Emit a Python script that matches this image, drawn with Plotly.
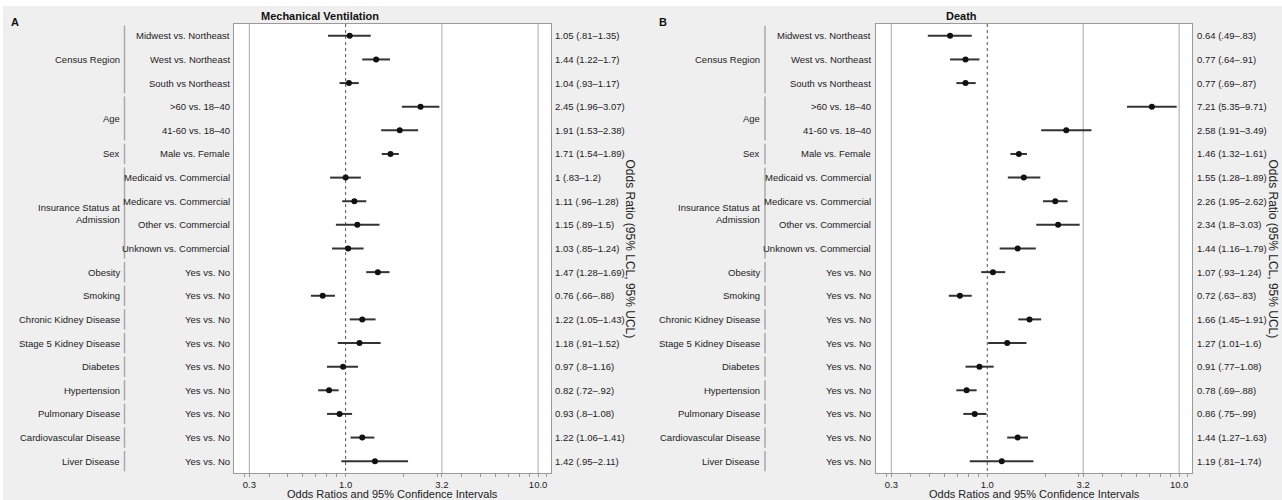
import plotly.graph_objects as go

W, H = 1282, 500

# ---------------- data ----------------
comparisons = [
    "Midwest vs. Northeast", "West vs. Northeast", "South vs Northeast",
    ">60 vs. 18\u201340", "41-60 vs. 18\u201340", "Male vs. Female",
    "Medicaid vs. Commercial", "Medicare vs. Commercial", "Other vs. Commercial",
    "Unknown vs. Commercial",
    "Yes vs. No", "Yes vs. No", "Yes vs. No", "Yes vs. No", "Yes vs. No",
    "Yes vs. No", "Yes vs. No", "Yes vs. No", "Yes vs. No",
]
groups = ["Census Region", "Age", "Sex", "Insurance Status at<br>Admission",
          "Obesity", "Smoking", "Chronic Kidney Disease", "Stage 5 Kidney Disease",
          "Diabetes", "Hypertension", "Pulmonary Disease", "Cardiovascular Disease",
          "Liver Disease"]
group_sizes = [3, 2, 1, 4, 1, 1, 1, 1, 1, 1, 1, 1, 1]

# Mechanical ventilation
mv_or = [1.05, 1.44, 1.04, 2.45, 1.91, 1.71, 1, 1.11, 1.15, 1.03, 1.47, 0.76, 1.22, 1.18, 0.97, 0.82, 0.93, 1.22, 1.42]
mv_lcl = [0.81, 1.22, 0.93, 1.96, 1.53, 1.54, 0.83, 0.96, 0.89, 0.85, 1.28, 0.66, 1.05, 0.91, 0.8, 0.72, 0.8, 1.06, 0.95]
mv_ucl = [1.35, 1.7, 1.17, 3.07, 2.38, 1.89, 1.2, 1.28, 1.5, 1.24, 1.69, 0.88, 1.43, 1.52, 1.16, 0.92, 1.08, 1.41, 2.11]

# Death
de_or = [0.64, 0.77, 0.77, 7.21, 2.58, 1.46, 1.55, 2.26, 2.34, 1.44, 1.07, 0.72, 1.66, 1.27, 0.91, 0.78, 0.86, 1.44, 1.19]
de_lcl = [0.49, 0.64, 0.69, 5.35, 1.91, 1.32, 1.28, 1.95, 1.8, 1.16, 0.93, 0.63, 1.45, 1.01, 0.77, 0.69, 0.75, 1.27, 0.81]
de_ucl = [0.83, 0.91, 0.87, 9.71, 3.49, 1.61, 1.89, 2.62, 3.03, 1.79, 1.24, 0.83, 1.91, 1.6, 1.08, 0.88, 0.99, 1.63, 1.74]

tick_vals = [10 ** -0.5, 1.0, 10 ** 0.5, 10.0]
tick_text = ["0.3", "1.0", "3.2", "10.0"]
minor_vals = [0.3, 0.4, 0.5, 0.6, 0.7, 0.8, 0.9, 2, 3, 4, 5, 6, 7, 8, 9, 11]

panel_titles = ["Mechanical Ventilation", "Death"]
panel_letters = ["A", "B"]
x_title = "Odds Ratios and 95% Confidence Intervals"
right_title = "Odds Ratio (95% LCL, 95% UCL)"

# ---------------- layout geometry (pixels) ----------------
FONT = "Liberation Sans, Arial, sans-serif"
BG = "#efefef"
panels = [
    dict(x0=234, x1=551, grp_x=122, br_x=124.5, sub_x=232, val_x=553, rt_x=630,
         title_x=320, letter_x=9),
    dict(x0=876, x1=1192, grp_x=762, br_x=765, sub_x=873, val_x=1195, rt_x=1273,
         title_x=961, letter_x=657),
]
TOP, BOT = 24, 473
n = len(comparisons)


def fx(p):
    return p / W


def fy(p):
    return 1 - p / H


def fmt(v, lead=True):
    s = f"{v:g}"
    if not lead and s.startswith("0."):
        s = s[1:]
    return s


fig = go.Figure()
data_sets = [(mv_or, mv_lcl, mv_ucl), (de_or, de_lcl, de_ucl)]
annotations = []
shapes = []

for k, (orv, lcl, ucl) in enumerate(data_sets):
    xa = "x" if k == 0 else "x2"
    ya = "y" if k == 0 else "y2"
    rows = list(range(n))
    # reference lines
    for v in [10 ** -0.5, 10 ** 0.5, 10.0]:
        fig.add_trace(go.Scatter(x=[v, v], y=[-0.5, n - 0.5], mode="lines",
                                 line=dict(color="#b8b8b8", width=1.2),
                                 hoverinfo="skip", showlegend=False, xaxis=xa, yaxis=ya))
    fig.add_trace(go.Scatter(x=[1, 1], y=[-0.5, n - 0.5], mode="lines",
                             line=dict(color="#555555", width=1, dash="dot"),
                             hoverinfo="skip", showlegend=False, xaxis=xa, yaxis=ya))
    # estimates with CIs
    fig.add_trace(go.Scatter(
        x=orv, y=rows, mode="markers",
        marker=dict(color="#111111", size=6),
        error_x=dict(type="data", symmetric=False,
                     array=[u - o for u, o in zip(ucl, orv)],
                     arrayminus=[o - l for o, l in zip(orv, lcl)],
                     width=0, thickness=2, color="#333333"),
        showlegend=False, xaxis=xa, yaxis=ya))

    P = panels[k]
    # comparison labels & value labels
    for i in range(n):
        annotations.append(dict(x=fx(P["sub_x"]), y=i, xref="paper", yref=ya,
                                text=comparisons[i], showarrow=False, xanchor="right",
                                yanchor="middle", font=dict(size=9.5, color="#222")))
        txt = f"{fmt(orv[i])} ({fmt(lcl[i], False)}\u2013{fmt(ucl[i], False)})"
        annotations.append(dict(x=fx(P["val_x"]), y=i, xref="paper", yref=ya,
                                text=txt, showarrow=False, xanchor="left",
                                yanchor="middle", font=dict(size=9.5, color="#222")))
    # group labels & brackets
    start = 0
    for g, sz in zip(groups, group_sizes):
        mid = start + (sz - 1) / 2
        annotations.append(dict(x=fx(P["grp_x"]), y=mid, xref="paper", yref=ya,
                                text=g, showarrow=False, xanchor="right", align="right",
                                yanchor="middle", font=dict(size=9.5, color="#222")))
        shapes.append(dict(type="line", xref="paper", yref=ya,
                           x0=fx(P["br_x"]), x1=fx(P["br_x"]),
                           y0=start - 0.43, y1=start + sz - 1 + 0.43,
                           line=dict(color="#a8a8a8", width=1.5)))
        start += sz
    # titles
    annotations.append(dict(x=fx(P["title_x"]), y=fy(16), xref="paper", yref="paper",
                            text=f"<b>{panel_titles[k]}</b>", showarrow=False,
                            xanchor="center", yanchor="middle",
                            font=dict(size=11, color="#111")))
    annotations.append(dict(x=fx(P["letter_x"]), y=fy(22), xref="paper", yref="paper",
                            text=f"<b>{panel_letters[k]}</b>", showarrow=False,
                            xanchor="left", yanchor="middle",
                            font=dict(size=11, color="#111")))
    annotations.append(dict(x=fx((P["x0"] + P["x1"]) / 2), y=fy(493.5), xref="paper",
                            yref="paper", text=x_title, showarrow=False,
                            xanchor="center", yanchor="middle",
                            font=dict(size=11, color="#222")))
    annotations.append(dict(x=fx(P["rt_x"]), y=fy((TOP + BOT) / 2), xref="paper",
                            yref="paper", text=right_title, showarrow=False,
                            textangle=90, xanchor="center", yanchor="middle",
                            font=dict(size=12, color="#222")))

# white outer border (top / left strips)
shapes.append(dict(type="rect", xref="paper", yref="paper", x0=0, x1=1, y0=fy(6), y1=1,
                   fillcolor="white", line=dict(width=0), layer="below"))
shapes.append(dict(type="rect", xref="paper", yref="paper", x0=0, x1=fx(3), y0=0, y1=1,
                   fillcolor="white", line=dict(width=0), layer="below"))


def xaxis_cfg(P):
    return dict(type="log", domain=[fx(P["x0"]), fx(P["x1"])], range=[-0.58, 1.067],
                tickmode="array", tickvals=tick_vals, ticktext=tick_text,
                ticks="outside", ticklen=3, tickcolor="#999", showgrid=False,
                zeroline=False, showline=True, linecolor="#999", linewidth=1,
                mirror=True, tickfont=dict(size=9.5, color="#222"),
                minor=dict(tickmode="array", tickvals=minor_vals, ticks="outside",
                           ticklen=2.5, tickcolor="#999", showgrid=False))


def yaxis_cfg():
    return dict(domain=[fy(BOT), fy(TOP)], range=[n - 0.5, -0.5], showticklabels=False,
                showgrid=False, zeroline=False, showline=True, linecolor="#999",
                linewidth=1, mirror=True, ticks="")


fig.update_layout(
    width=W, height=H, margin=dict(l=0, r=0, t=0, b=0),
    paper_bgcolor=BG, plot_bgcolor="white",
    font=dict(family=FONT, color="#222"),
    xaxis=xaxis_cfg(panels[0]), yaxis=yaxis_cfg(),
    xaxis2=dict(xaxis_cfg(panels[1]), anchor="y2"),
    yaxis2=dict(yaxis_cfg(), anchor="x2"),
    annotations=annotations, shapes=shapes, showlegend=False,
)
fig.update_layout(xaxis=dict(anchor="y"), yaxis=dict(anchor="x"))

fig.write_html(
    "out.html",
    config={"displayModeBar": False},
    post_script="document.body.style.margin='0';document.body.style.overflow='hidden';",
)
